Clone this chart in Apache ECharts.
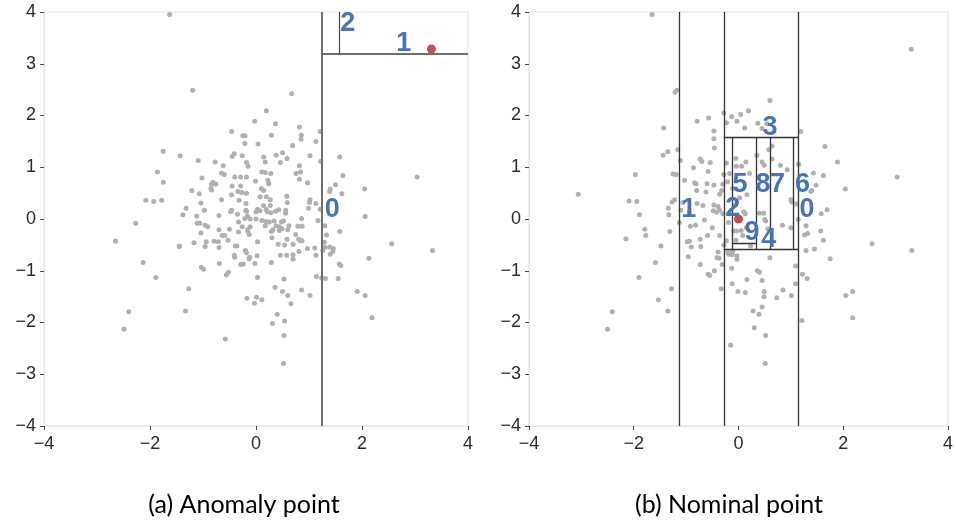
<!DOCTYPE html>
<html>
<head>
<meta charset="utf-8">
<script src="https://cdn.jsdelivr.net/npm/echarts@6/dist/echarts.min.js"></script>
<style>
  html, body { margin: 0; padding: 0; background: #fff; }
  #main { width: 956px; height: 522px; }
</style>
</head>
<body>
<div id="main"></div>
<script>
// 左图 (a) 灰色样本点
var ptsA = [
  [-1.63,3.95],[-1.195,2.49],[0.673,2.42],[0.195,2.09],[-0.025,1.89],[0.37,1.84],[0.82,1.78],[-0.46,1.69],
  [1.21,1.69],[0.855,1.62],[-0.25,1.61],[-0.21,1.61],[0.29,1.62],[0.85,1.54],[1.13,1.50],[-0.21,1.46],
  [0.04,1.45],[0.69,1.42],[0.50,1.28],[-1.75,1.31],[-1.43,1.22],[-0.41,1.26],[-0.45,1.21],[-0.26,1.22],
  [0.145,1.20],[0.38,1.23],[0.585,1.17],[1.02,1.22],[1.58,1.20],[-1.09,1.13],[-0.77,1.10],[-0.18,1.09],
  [0.175,1.10],[0.46,1.09],[1.22,1.11],[0.82,1.03],[-0.62,1.03],[-0.15,1.02],[-1.86,0.91],[-0.65,0.89],
  [-0.60,0.86],[0.84,0.91],[0.11,0.91],[0.175,0.90],[0.28,0.88],[0.755,0.88],[1.64,0.84],[3.04,0.81],
  [-1.02,0.79],[-0.40,0.81],[-0.29,0.81],[-0.18,0.81],[0.82,0.77],[-1.75,0.71],[-0.81,0.71],[-0.01,0.73],
  [0.225,0.75],[0.975,0.70],[-0.84,0.67],[-0.76,0.67],[-0.45,0.64],[-0.29,0.64],[0.24,0.68],[1.50,0.66],
  [-0.85,0.59],[0.10,0.59],[-0.84,0.56],[-1.21,0.55],[0.145,0.55],[1.40,0.58],[2.05,0.58],[-0.34,0.53],
  [-1.07,0.49],[-0.46,0.47],[-0.27,0.51],[-0.18,0.50],[1.39,0.53],[1.62,0.49],[0.08,0.43],[0.195,0.43],
  [0.58,0.44],[-2.08,0.36],[-1.93,0.34],[-1.78,0.36],[-1.04,0.31],[-0.65,0.37],[-0.32,0.36],[-0.19,0.30],
  [0.27,0.37],[0.59,0.32],[1.02,0.37],[1.01,0.32],[1.13,0.30],[0.14,0.26],[0.27,0.26],[-1.32,0.21],
  [-0.975,0.17],[-0.46,0.17],[-0.19,0.17],[0.03,0.19],[0.075,0.16],[0.19,0.19],[0.43,0.18],[0.56,0.17],
  [0.99,0.21],[1.21,0.19],[-0.48,0.14],[-0.18,0.15],[0.0,0.14],[0.21,0.14],[0.28,0.12],[0.37,0.15],
  [-1.38,0.08],[-1.12,0.06],[-0.70,0.07],[-0.35,0.09],[-0.16,0.06],[0.56,0.11],[2.06,0.05],[-2.27,-0.08],
  [-0.21,0.01],[-0.11,0.0],[0.0,0.0],[0.11,-0.03],[0.19,-0.05],[0.34,-0.04],[0.52,-0.04],[0.86,0.01],
  [1.17,-0.03],[-0.33,-0.06],[0.25,-0.06],[0.48,-0.06],[-1.11,-0.08],[-1.06,-0.08],[-0.96,-0.12],[-0.91,-0.15],
  [-0.26,-0.15],[-0.11,-0.15],[0.175,-0.13],[0.38,-0.13],[0.44,-0.15],[0.49,-0.19],[0.62,-0.13],[0.79,-0.14],
  [0.87,-0.14],[1.30,-0.13],[-0.70,-0.21],[-0.50,-0.20],[-0.16,-0.21],[0.32,-0.21],[0.44,-0.22],[0.60,-0.21],
  [1.58,-0.24],[-1.04,-0.27],[-0.33,-0.25],[-0.15,-0.25],[0.29,-0.24],[-0.13,-0.30],[-0.64,-0.32],[-0.59,-0.32],
  [0.75,-0.30],[1.33,-0.31],[0.30,-0.36],[0.585,-0.39],[0.805,-0.39],[0.84,-0.42],[0.87,-0.42],[-2.65,-0.43],
  [-1.17,-0.46],[-0.94,-0.44],[-0.79,-0.43],[-0.71,-0.44],[-0.53,-0.41],[-0.96,-0.53],[-0.70,-0.55],[-0.39,-0.52],
  [-0.36,-0.52],[0.03,-0.44],[0.42,-0.49],[0.54,-0.50],[0.70,-0.49],[0.97,-0.57],[1.11,-0.56],[1.29,-0.45],
  [1.30,-0.55],[1.39,-0.54],[1.46,-0.57],[2.56,-0.48],[3.33,-0.61],[-1.44,-0.52],[-1.45,-0.53],[-0.20,-0.61],
  [-0.18,-0.65],[-0.41,-0.70],[0.02,-0.71],[0.46,-0.70],[0.58,-0.70],[0.70,-0.69],[1.13,-0.70],[1.26,-0.61],
  [1.40,-0.68],[1.45,-0.63],[2.13,-0.76],[-2.13,-0.84],[-1.89,-1.13],[-1.03,-0.93],[-0.99,-0.97],[-0.69,-0.86],
  [-0.56,-1.08],[-0.52,-1.03],[-0.40,-0.74],[-0.29,-0.88],[-0.24,-0.87],[-0.13,-0.77],[-0.12,-0.74],[-0.02,-0.86],
  [0.03,-1.13],[0.29,-0.84],[0.81,-0.63],[0.70,-0.78],[1.14,-1.11],[1.24,-1.14],[1.31,-1.15],[1.55,-1.15],
  [1.57,-0.87],[1.60,-0.90],[-1.27,-1.35],[-2.40,-1.79],[-2.49,-2.13],[-1.33,-1.78],[-0.17,-1.53],[0.01,-1.51],
  [0.11,-1.56],[-0.03,-1.63],[0.36,-1.32],[0.50,-1.40],[0.53,-1.16],[0.60,-1.48],[0.66,-1.64],[0.86,-1.37],
  [1.02,-1.48],[0.40,-1.84],[0.31,-2.02],[0.54,-1.97],[0.53,-2.25],[-0.58,-2.32],[0.52,-2.79],[1.91,-1.40],
  [2.06,-1.48],[2.19,-1.91]
];
// 右图 (b) 灰色样本点
var ptsB = [
  [-1.65,3.95],[3.30,3.28],[-1.21,2.45],[-1.18,2.49],[0.60,2.29],[0.19,2.09],[-0.28,2.05],[-0.13,1.98],
  [0.04,2.02],[-0.79,1.89],[-0.57,1.95],[-0.03,1.89],[0.12,1.76],[-0.23,1.86],[-0.47,1.70],[-1.43,1.76],
  [0.37,1.85],[0.45,1.75],[0.54,1.84],[1.19,1.69],[-1.16,1.34],[-0.47,1.55],[-0.46,1.37],[-1.35,1.30],
  [-1.44,1.23],[1.65,1.40],[1.89,1.10],[0.64,1.41],[0.58,1.34],[0.35,1.23],[-0.05,1.17],[0.45,1.10],
  [0.49,1.04],[0.64,1.16],[-0.73,1.16],[-0.70,1.11],[-0.54,1.09],[-0.23,1.08],[-0.04,1.02],[0.06,1.02],
  [0.14,1.10],[-1.11,1.13],[-0.86,0.99],[0.80,1.04],[1.15,1.06],[0.93,0.95],[-1.97,0.86],[-1.25,0.87],
  [-1.19,0.86],[-0.58,0.92],[-0.28,0.86],[-0.17,0.88],[0.21,0.88],[1.43,0.89],[1.62,0.84],[3.03,0.81],
  [-1.03,0.75],[-0.84,0.70],[-0.81,0.68],[-0.60,0.68],[-0.47,0.65],[-0.30,0.67],[-0.21,0.72],[-0.11,0.59],
  [-0.80,0.55],[-0.62,0.52],[-0.32,0.55],[-0.36,0.48],[0.02,0.41],[0.16,0.47],[1.48,0.65],[1.40,0.55],
  [2.04,0.58],[1.38,0.53],[-3.06,0.48],[-2.09,0.35],[-1.94,0.34],[-1.27,0.33],[-1.22,0.37],[-1.06,0.32],
  [-0.79,0.30],[-0.68,0.26],[-0.47,0.27],[-0.39,0.24],[-0.06,0.27],[1.00,0.37],[1.02,0.33],[1.11,0.29],
  [1.69,0.18],[-1.34,0.21],[-1.10,0.17],[-0.94,0.13],[-1.33,0.08],[-1.89,0.08],[-0.48,0.16],[-0.42,0.13],
  [-0.36,0.17],[-0.30,0.10],[0.10,0.14],[0.13,0.10],[0.40,0.11],[0.48,0.11],[1.58,0.10],[-0.65,-0.02],
  [-1.13,-0.07],[-0.92,-0.14],[-0.82,-0.12],[-0.50,-0.17],[-0.19,-0.07],[-0.09,-0.23],[-0.04,-0.23],[0.05,-0.22],
  [0.15,-0.17],[0.50,-0.01],[0.52,-0.04],[0.56,-0.19],[0.84,-0.12],[1.29,-0.13],[1.14,-0.01],[1.00,-0.17],
  [-1.79,-0.20],[-1.77,-0.32],[-1.31,-0.24],[-0.98,-0.44],[-0.94,-0.43],[-0.73,-0.39],[-0.59,-0.32],[-0.36,-0.32],
  [-0.23,-0.42],[-0.05,-0.41],[0.08,-0.32],[1.26,-0.31],[1.32,-0.28],[1.57,-0.23],[1.62,-0.41],[2.55,-0.48],
  [3.31,-0.61],[-2.15,-0.38],[-1.48,-0.52],[-0.90,-0.54],[-0.72,-0.53],[-0.28,-0.50],[-0.18,-0.68],[-0.11,-0.63],
  [0.23,-0.52],[1.29,-0.61],[1.45,-0.58],[1.75,-0.77],[-0.96,-0.73],[-0.41,-0.75],[-0.37,-0.76],[0.60,-0.75],
  [-1.585,-0.84],[-1.90,-1.13],[-1.53,-1.56],[-1.28,-1.35],[-1.35,-1.78],[-2.41,-1.79],[-2.50,-2.13],[-0.73,-0.88],
  [-0.58,-1.07],[-0.55,-1.09],[-0.46,-1.00],[-0.39,-0.64],[-0.31,-0.88],[-0.33,-1.35],[-0.20,-0.65],[-0.12,-0.69],
  [-0.03,-0.71],[-0.03,-0.78],[-0.13,-0.95],[-0.12,-1.25],[-0.01,-1.40],[0.13,-1.42],[0.16,-1.17],[0.36,-1.00],
  [0.40,-1.03],[0.45,-1.19],[0.49,-1.40],[0.49,-1.50],[0.73,-1.52],[0.85,-1.37],[1.01,-1.48],[1.09,-0.91],
  [1.09,-1.25],[1.22,-1.07],[1.31,-1.15],[2.05,-1.48],[2.18,-1.40],[2.18,-1.91],[1.21,-1.96],[0.28,-1.78],
  [0.39,-1.84],[0.45,-1.70],[0.30,-2.10],[0.52,-2.25],[-0.15,-2.44],[0.51,-2.79]
];
// 被隔离的点
var anomalyA = [[3.31, 3.285]];
var nominalB = [[0.0, 0.0]];

// 切分线 [x1, y1, x2, y2]
var splitsA = [[1.245,-4,1.245,4],[1.245,3.195,4,3.195]];
var subSplitsA = [[1.566,3.195,1.566,4]];
var splitsB = [
  [-1.14,-4,-1.14,4],[-0.28,-4,-0.28,4],[1.14,-4,1.14,4],
  [-0.28,1.585,1.14,1.585],[-0.28,-0.586,1.14,-0.586],
  [-0.125,-0.586,-0.125,1.585],[0.33,-0.586,0.33,1.585],[0.60,-0.586,0.60,1.585],[1.045,-0.586,1.045,1.585],
  [-0.125,-0.477,0.33,-0.477]
];

// 区域编号
var labelsA = [[1.73,3.77,'2'],[2.79,3.40,'1'],[1.44,0.19,'0']];
var labelsB = [[0.60,1.77,'3'],[0.03,0.67,'5'],[0.47,0.67,'8'],[0.745,0.67,'7'],[1.22,0.67,'6'],
  [1.31,0.19,'0'],[-0.95,0.19,'1'],[-0.11,0.21,'2'],[0.26,-0.27,'9'],[0.58,-0.40,'4']];

var subtitles = ['(a) Anomaly point', '(b) Nominal point'];

var myChart = echarts.init(document.getElementById('main'));

function minus(v) { return String(v).replace('-', '\u2212'); }

function axisX(i) {
  return {
    type: 'value', gridIndex: i, min: -4, max: 4, interval: 2,
    axisLine: { show: true, onZero: false, lineStyle: { color: '#e3e3e3' } },
    axisTick: { show: true, length: 4, lineStyle: { color: '#444' } },
    splitLine: { show: false },
    axisLabel: { formatter: minus, fontSize: 18, color: '#2b2b2b', margin: 9, fontFamily: 'Liberation Sans' }
  };
}
function axisY(i) {
  return {
    type: 'value', gridIndex: i, min: -4, max: 4, interval: 1,
    axisLine: { show: true, onZero: false, lineStyle: { color: '#e3e3e3' } },
    axisTick: { show: true, length: 4, lineStyle: { color: '#444' } },
    splitLine: { show: false },
    axisLabel: { formatter: minus, fontSize: 18, color: '#2b2b2b', margin: 8, fontFamily: 'Liberation Sans' }
  };
}
function segs(list) {
  return list.map(function (s) { return { coords: [[s[0], s[1]], [s[2], s[3]]] }; });
}
function texts(list, i) {
  return {
    type: 'scatter', xAxisIndex: i, yAxisIndex: i, z: 10,
    symbolSize: 1, itemStyle: { color: 'rgba(0,0,0,0)', opacity: 1 },
    label: {
      show: true, position: 'inside', color: '#4a72b8', fontSize: 27, fontWeight: 'bold',
      fontFamily: 'Liberation Sans', textBorderWidth: 0,
      formatter: function (p) { return p.value[2]; }
    },
    data: list
  };
}

myChart.setOption({
  animation: false,
  title: [
    { text: subtitles[0], left: 239, top: 487, textAlign: 'center',
      textStyle: { fontSize: 25, fontWeight: 'normal', color: '#000', fontFamily: 'Lato' } },
    { text: subtitles[1], left: 724, top: 487, textAlign: 'center',
      textStyle: { fontSize: 25, fontWeight: 'normal', color: '#000', fontFamily: 'Lato' } }
  ],
  grid: [
    { left: 44, top: 12, width: 424, height: 414, show: true, borderColor: '#e3e3e3', borderWidth: 1 },
    { left: 529, top: 12, width: 424, height: 414, show: true, borderColor: '#e3e3e3', borderWidth: 1 }
  ],
  xAxis: [axisX(0), axisX(1)],
  yAxis: [axisY(0), axisY(1)],
  series: [
    { type: 'scatter', xAxisIndex: 0, yAxisIndex: 0, symbolSize: 5,
      itemStyle: { color: '#b0b0b0', opacity: 1 }, data: ptsA },
    { type: 'scatter', xAxisIndex: 1, yAxisIndex: 1, symbolSize: 5,
      itemStyle: { color: '#b0b0b0', opacity: 1 }, data: ptsB },
    { type: 'lines', coordinateSystem: 'cartesian2d', xAxisIndex: 0, yAxisIndex: 0, z: 5,
      lineStyle: { color: '#6e6e6e', width: 2, opacity: 1 }, data: segs(splitsA) },
    { type: 'lines', coordinateSystem: 'cartesian2d', xAxisIndex: 0, yAxisIndex: 0, z: 5,
      lineStyle: { color: '#444', width: 1.2, opacity: 1 }, data: segs(subSplitsA) },
    { type: 'lines', coordinateSystem: 'cartesian2d', xAxisIndex: 1, yAxisIndex: 1, z: 5,
      lineStyle: { color: '#333', width: 1.3, opacity: 1 }, data: segs(splitsB) },
    { type: 'scatter', xAxisIndex: 0, yAxisIndex: 0, symbolSize: 9, z: 6,
      itemStyle: { color: '#c44e52', opacity: 1 }, data: anomalyA },
    { type: 'scatter', xAxisIndex: 1, yAxisIndex: 1, symbolSize: 9, z: 6,
      itemStyle: { color: '#c44e52', opacity: 1 }, data: nominalB },
    texts(labelsA, 0),
    texts(labelsB, 1)
  ]
});
</script>
</body>
</html>
